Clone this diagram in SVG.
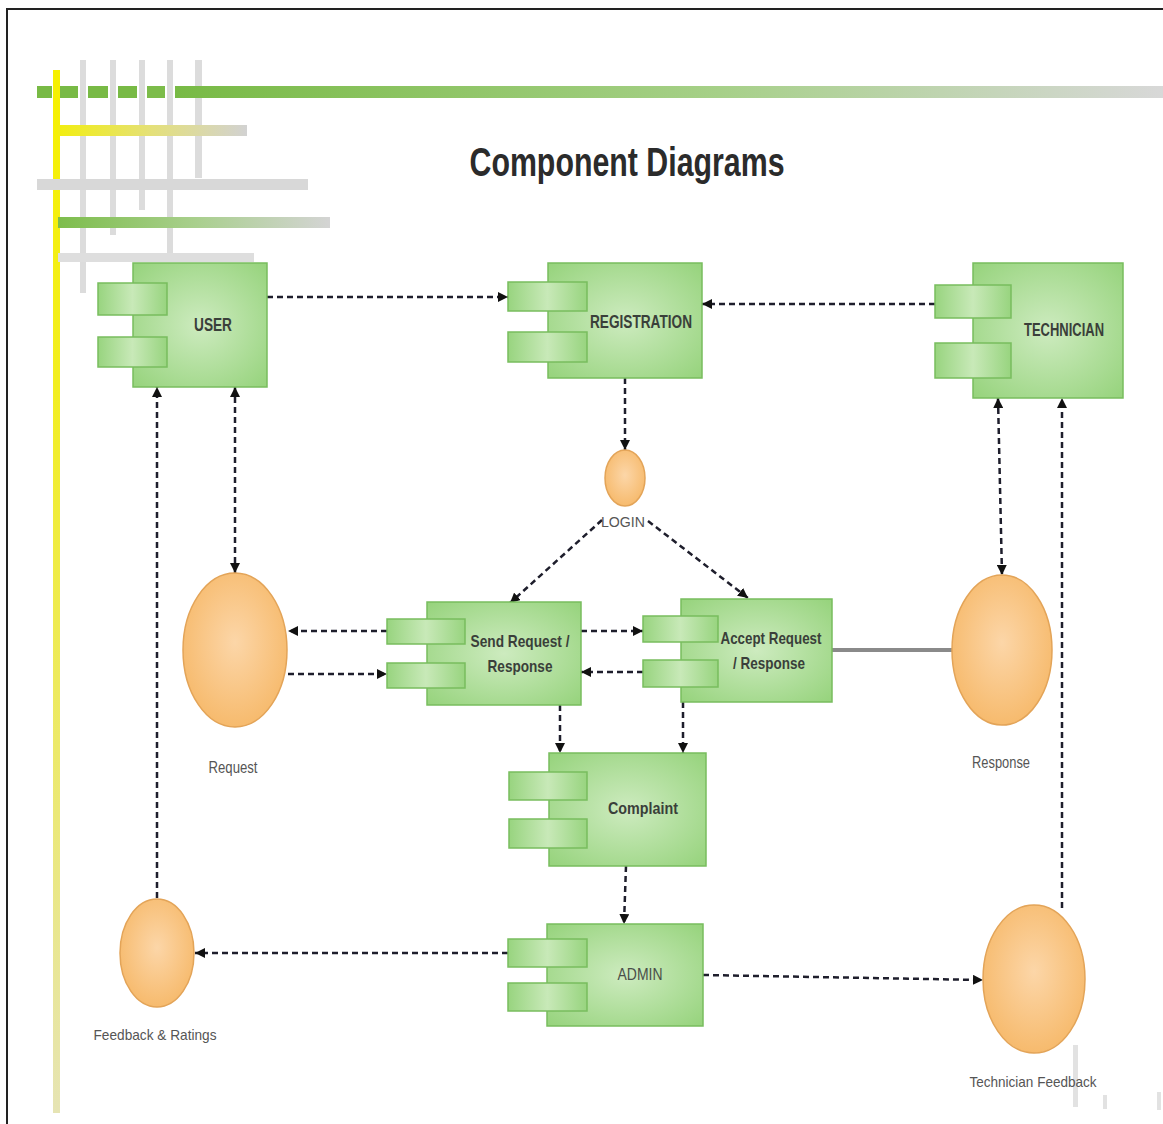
<svg xmlns="http://www.w3.org/2000/svg" width="1163" height="1124" viewBox="0 0 1163 1124">
<style>
.comp{fill:url(#gMain);stroke:#78bd5e;stroke-width:1.5}
.port{fill:url(#gPort);stroke:#78bd5e;stroke-width:1.5}
.iface{fill:url(#gOrange);stroke:#e3a458;stroke-width:1.5}
.lbl{font-family:"Liberation Sans",Arial,sans-serif;font-weight:bold;fill:#3a3f3a;text-anchor:middle}
.glbl{font-family:"Liberation Sans",Arial,sans-serif;fill:#555;text-anchor:middle}
.dash{fill:none;stroke:#1e1e2c;stroke-width:2.5;stroke-dasharray:6 4}
</style>
<defs>
<radialGradient id="gMain" cx="0.5" cy="0.5" r="0.7">
<stop offset="0" stop-color="#cdebbf"/><stop offset="1" stop-color="#96d37c"/>
</radialGradient>
<linearGradient id="gPort" x1="0" y1="0" x2="1" y2="0">
<stop offset="0" stop-color="#98d47f"/><stop offset="0.5" stop-color="#c8e9b8"/><stop offset="1" stop-color="#98d47f"/>
</linearGradient>
<radialGradient id="gOrange" cx="0.5" cy="0.45" r="0.6">
<stop offset="0" stop-color="#fcd6a8"/><stop offset="1" stop-color="#f6b868"/>
</radialGradient>
<linearGradient id="gTopBar" x1="0" y1="0" x2="1" y2="0">
<stop offset="0" stop-color="#78ba45"/><stop offset="0.55" stop-color="#a6d088"/><stop offset="1" stop-color="#d8d8d8"/>
</linearGradient>
<linearGradient id="gYelH" x1="0" y1="0" x2="1" y2="0">
<stop offset="0" stop-color="#f2ee10"/><stop offset="0.5" stop-color="#e4e07a"/><stop offset="1" stop-color="#d2d2d2"/>
</linearGradient>
<linearGradient id="gGrnH" x1="0" y1="0" x2="1" y2="0">
<stop offset="0" stop-color="#7dbd4c"/><stop offset="0.5" stop-color="#a8cf8c"/><stop offset="1" stop-color="#d4d4d4"/>
</linearGradient>
<linearGradient id="gYelV" x1="0" y1="0" x2="0" y2="1">
<stop offset="0" stop-color="#f6f000"/><stop offset="0.3" stop-color="#f2ee20"/><stop offset="1" stop-color="#e6e4b4"/>
</linearGradient>
<marker id="ah" viewBox="0 0 10 10" refX="10" refY="5" markerWidth="10" markerHeight="10" markerUnits="userSpaceOnUse" orient="auto-start-reverse">
<path d="M0,0 L10,5 L0,10 z" fill="#111"/>
</marker>
</defs>
<rect x="0" y="0" width="1163" height="1124" fill="#fff"/>
<!-- frame -->
<line x1="7" y1="9" x2="1163" y2="9" stroke="#222" stroke-width="2"/>
<line x1="7" y1="8" x2="7" y2="1124" stroke="#222" stroke-width="2"/>
<!-- decorations -->
<g id="decor">
<rect x="53" y="70" width="7" height="1043" fill="url(#gYelV)"/>
<rect x="80" y="60" width="6" height="233" fill="#dcdcdc"/>
<rect x="110" y="60" width="6" height="175" fill="#dcdcdc"/>
<rect x="139" y="60" width="6" height="150" fill="#dcdcdc"/>
<rect x="167" y="60" width="6" height="193" fill="#dcdcdc"/>
<rect x="195" y="60" width="7" height="118" fill="#dcdcdc"/>
<rect x="37" y="86" width="15" height="12" fill="#78ba45"/>
<rect x="60" y="86" width="18" height="12" fill="#78ba45"/>
<rect x="88" y="86" width="20" height="12" fill="#78ba45"/>
<rect x="118" y="86" width="19" height="12" fill="#78ba45"/>
<rect x="147" y="86" width="18" height="12" fill="#7cbc4a"/>
<rect x="175" y="86" width="988" height="12" fill="url(#gTopBar)"/>
<rect x="58" y="125" width="189" height="11" fill="url(#gYelH)"/>
<rect x="37" y="179" width="271" height="11" fill="#d8d8d8"/>
<rect x="58" y="217" width="272" height="11" fill="url(#gGrnH)"/>
<rect x="58" y="253" width="196" height="9" fill="#dedede"/>
<rect x="1073" y="1045" width="5" height="62" fill="#e2e2e2"/>
<rect x="1103" y="1095" width="4" height="14" fill="#e2e2e2"/>
<rect x="1157" y="1092" width="4" height="18" fill="#e2e2e2"/>
</g>
<text x="627" y="176" textLength="315" lengthAdjust="spacingAndGlyphs" style="font-family:'Liberation Sans',Arial,sans-serif;font-weight:bold;font-size:40px;fill:#2b2b2b;text-anchor:middle">Component Diagrams</text>
<!-- connectors -->
<g id="connectors">
<path class="dash" d="M267,297 H508" marker-end="url(#ah)"/>
<path class="dash" d="M935,304 H702" marker-end="url(#ah)"/>
<path class="dash" d="M625,378 V450" marker-end="url(#ah)"/>
<path class="dash" d="M602,520 L510,603" marker-end="url(#ah)"/>
<path class="dash" d="M648,521 L748,598" marker-end="url(#ah)"/>
<path class="dash" d="M387,631 H288" marker-end="url(#ah)"/>
<path class="dash" d="M288,674 H387" marker-end="url(#ah)"/>
<path class="dash" d="M581,631 H643" marker-end="url(#ah)"/>
<path class="dash" d="M643,672 H581" marker-end="url(#ah)"/>
<path class="dash" d="M560,705 V753" marker-end="url(#ah)"/>
<path class="dash" d="M683,702 V753" marker-end="url(#ah)"/>
<path class="dash" d="M626,866 L624,924" marker-end="url(#ah)"/>
<path class="dash" d="M508,953 H195" marker-end="url(#ah)"/>
<path class="dash" d="M703,975 L983,980" marker-end="url(#ah)"/>
<path class="dash" d="M157,898 V387" marker-end="url(#ah)"/>
<path class="dash" d="M235,387 V573" marker-start="url(#ah)" marker-end="url(#ah)"/>
<path class="dash" d="M998,398 L1002,575" marker-start="url(#ah)" marker-end="url(#ah)"/>
<path class="dash" d="M1062,908 V398" marker-end="url(#ah)"/>
<path d="M832,650 H952" fill="none" stroke="#8a8a8a" stroke-width="4"/>
</g>
<!-- nodes -->
<g id="user">
<rect class="comp" x="133" y="263" width="134" height="124"/>
<rect class="port" x="98" y="283" width="69" height="32"/>
<rect class="port" x="98" y="337" width="69" height="30"/>
<text class="lbl" x="213" y="331" font-size="19" textLength="38" lengthAdjust="spacingAndGlyphs">USER</text>
</g>
<g id="registration">
<rect class="comp" x="548" y="263" width="154" height="115"/>
<rect class="port" x="508" y="282" width="79" height="29"/>
<rect class="port" x="508" y="332" width="79" height="30"/>
<text class="lbl" x="641" y="328" font-size="18" textLength="102" lengthAdjust="spacingAndGlyphs">REGISTRATION</text>
</g>
<g id="technician">
<rect class="comp" x="973" y="263" width="150" height="135"/>
<rect class="port" x="935" y="285" width="76" height="33"/>
<rect class="port" x="935" y="343" width="76" height="35"/>
<text class="lbl" x="1064" y="336" font-size="18" textLength="80" lengthAdjust="spacingAndGlyphs">TECHNICIAN</text>
</g>
<g id="login">
<ellipse class="iface" cx="625" cy="478" rx="20" ry="28"/>
<text class="glbl" x="623" y="527" font-size="15" textLength="44" lengthAdjust="spacingAndGlyphs">LOGIN</text>
</g>
<g id="send-request">
<rect class="comp" x="427" y="602" width="154" height="103"/>
<rect class="port" x="387" y="619" width="78" height="25"/>
<rect class="port" x="387" y="663" width="78" height="25"/>
<text class="lbl" x="520" y="647" font-size="17" textLength="99" lengthAdjust="spacingAndGlyphs">Send Request /</text>
<text class="lbl" x="520" y="672" font-size="17" textLength="65" lengthAdjust="spacingAndGlyphs">Response</text>
</g>
<g id="accept-request">
<rect class="comp" x="681" y="599" width="151" height="103"/>
<rect class="port" x="643" y="616" width="75" height="26"/>
<rect class="port" x="643" y="660" width="75" height="27"/>
<text class="lbl" x="771" y="644" font-size="17" textLength="101" lengthAdjust="spacingAndGlyphs">Accept Request</text>
<text class="lbl" x="769" y="669" font-size="17" textLength="72" lengthAdjust="spacingAndGlyphs">/ Response</text>
</g>
<g id="request">
<ellipse class="iface" cx="235" cy="650" rx="52" ry="77"/>
<text class="glbl" x="233" y="773" font-size="16" textLength="49" lengthAdjust="spacingAndGlyphs">Request</text>
</g>
<g id="response">
<ellipse class="iface" cx="1002" cy="650" rx="50" ry="75"/>
<text class="glbl" x="1001" y="768" font-size="16" textLength="58" lengthAdjust="spacingAndGlyphs">Response</text>
</g>
<g id="complaint">
<rect class="comp" x="549" y="753" width="157" height="113"/>
<rect class="port" x="509" y="772" width="78" height="28"/>
<rect class="port" x="509" y="819" width="78" height="29"/>
<text class="lbl" x="643" y="814" font-size="17" textLength="70" lengthAdjust="spacingAndGlyphs">Complaint</text>
</g>
<g id="admin">
<rect class="comp" x="547" y="924" width="156" height="102"/>
<rect class="port" x="508" y="939" width="79" height="28"/>
<rect class="port" x="508" y="983" width="79" height="28"/>
<text class="glbl" x="640" y="980" font-size="17" textLength="45" lengthAdjust="spacingAndGlyphs" style="fill:#4a4f4a">ADMIN</text>
</g>
<g id="feedback">
<ellipse class="iface" cx="157" cy="953" rx="37" ry="54"/>
<text class="glbl" x="155" y="1040" font-size="15" textLength="123" lengthAdjust="spacingAndGlyphs">Feedback &amp; Ratings</text>
</g>
<g id="technician-feedback">
<ellipse class="iface" cx="1034" cy="979" rx="51" ry="74"/>
<text class="glbl" x="1033" y="1087" font-size="15" textLength="127" lengthAdjust="spacingAndGlyphs">Technician Feedback</text>
</g>
</svg>
